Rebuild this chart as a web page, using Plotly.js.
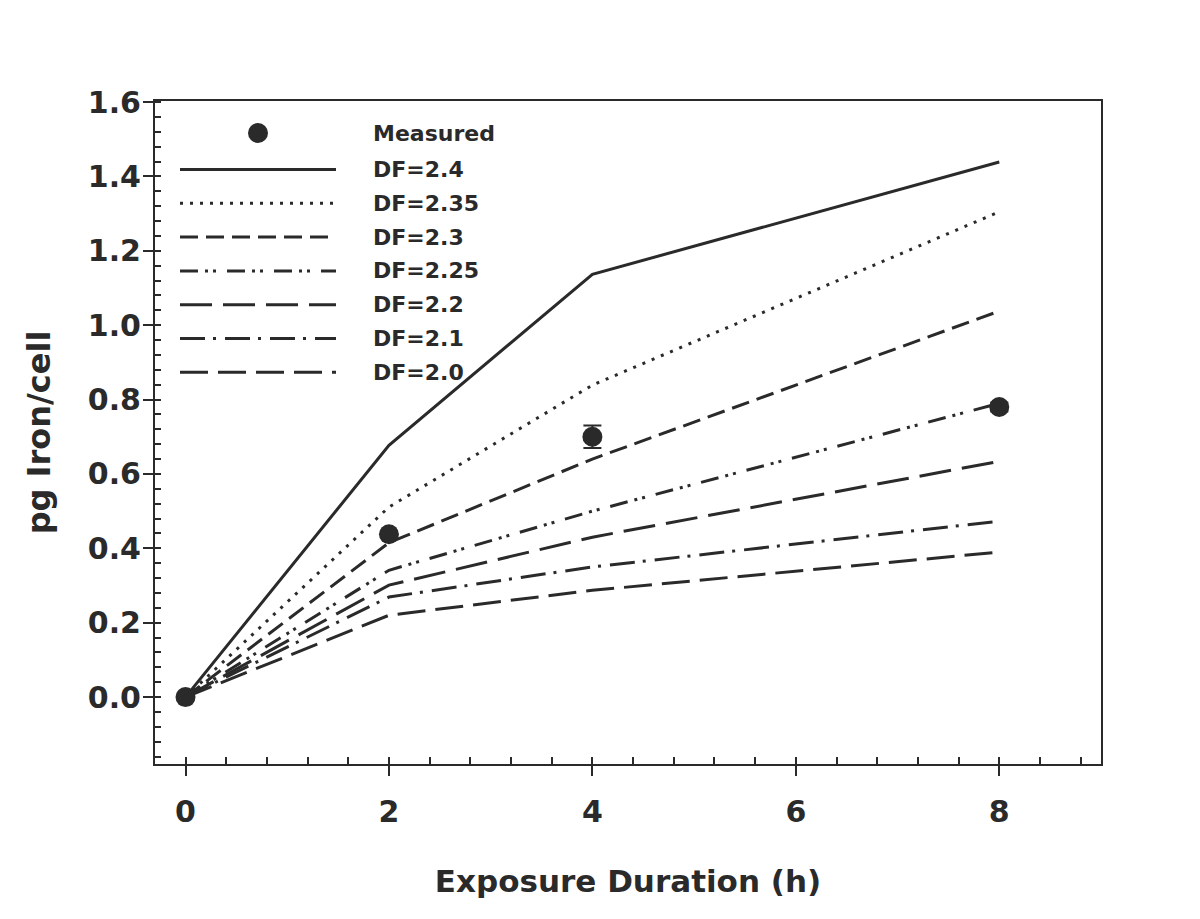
<!DOCTYPE html>
<html>
<head>
<meta charset="utf-8">
<script src="https://cdn.plot.ly/plotly-3.0.1.min.js"></script>
<style>html,body{margin:0;padding:0;background:#fff;}#chart{width:1200px;height:919px;}</style>
</head>
<body>
<div id="chart"></div>
<script>
// ---- data ----
const hours = [0, 2, 4, 8];
const measured = [0, 0.438, 0.70, 0.78];
const measuredErr = [0, 0.008, 0.03, 0.012];
const seriesNames = ["DF=2.4", "DF=2.35", "DF=2.3", "DF=2.25", "DF=2.2", "DF=2.1", "DF=2.0"];
const df24  = [0, 0.677, 1.137, 1.439];
const df235 = [0, 0.511, 0.839, 1.305];
const df23  = [0, 0.415, 0.640, 1.038];
const df225 = [0, 0.341, 0.500, 0.790];
const df22  = [0, 0.301, 0.430, 0.634];
const df21  = [0, 0.269, 0.350, 0.473];
const df20  = [0, 0.220, 0.287, 0.390];
const xTickLabels = ["0", "2", "4", "6", "8"];

// ---- styles ----
const ink = "#2a2a2a";
const font = "DejaVu Sans, sans-serif";
const dashes = ["solid", "3px,7px", "18px,8px", "18px,7px,3px,5px,3px,11px", "32px,11px", "25px,8px,3px,9px", "28px,10px"];
const seriesValues = [df24, df235, df23, df225, df22, df21, df20];

const traces = seriesValues.map((v, i) => ({
  x: hours, y: v, type: "scatter", mode: "lines", name: seriesNames[i],
  line: {color: ink, width: 3, dash: dashes[i]}, showlegend: false
}));
traces.push({
  x: hours, y: measured, type: "scatter", mode: "markers", name: "Measured",
  marker: {color: ink, size: 20},
  error_y: {type: "data", array: measuredErr, visible: true, color: ink, thickness: 2, width: 9},
  showlegend: false
});

// ---- custom legend (paper coordinates from pixel layout) ----
const W = 1200, H = 919, L = 155, R = 99, T = 101, B = 155;
const pw = W - L - R, ph = H - T - B;
const px = x => (x - L) / pw;
const py = y => (H - B - y) / ph;
const shapes = [];
const annotations = [];
const rowY = [133].concat(seriesNames.map((_, i) => 169.5 + 33.8 * i));
shapes.push({type: "circle", xref: "paper", yref: "paper", xsizemode: "pixel", ysizemode: "pixel",
  xanchor: px(258), yanchor: py(rowY[0]), x0: -10, x1: 10, y0: -10, y1: 10,
  fillcolor: ink, line: {color: ink, width: 0}});
annotations.push({xref: "paper", yref: "paper", x: px(371), y: py(rowY[0]), text: "Measured",
  showarrow: false, xanchor: "left", yanchor: "middle", font: {family: font, size: 22, color: ink, weight: "bold"}});
seriesNames.forEach((n, i) => {
  shapes.push({type: "line", xref: "paper", yref: "paper", x0: px(180), x1: px(336), y0: py(rowY[i + 1]), y1: py(rowY[i + 1]),
    line: {color: ink, width: 3, dash: dashes[i]}});
  annotations.push({xref: "paper", yref: "paper", x: px(371), y: py(rowY[i + 1]), text: n,
    showarrow: false, xanchor: "left", yanchor: "middle", font: {family: font, size: 22, color: ink, weight: "bold"}});
});

const layout = {
  width: W, height: H,
  margin: {l: L, r: R, t: T, b: B, pad: 0},
  paper_bgcolor: "#fff", plot_bgcolor: "#fff",
  showlegend: false,
  font: {family: font, color: ink},
  xaxis: {
    range: [-0.3, 9.0], tickmode: "array", tickvals: [0, 2, 4, 6, 8], ticktext: xTickLabels,
    ticks: "outside", ticklen: 10, tickwidth: 2, tickcolor: ink,
    minor: {ticks: "inside", tickmode: "linear", tick0: 0, dtick: 0.4, ticklen: 7, tickwidth: 2, tickcolor: ink},
    showline: true, linewidth: 2, linecolor: ink, mirror: true, showgrid: false, zeroline: false,
    tickfont: {family: font, size: 30, color: ink, weight: "bold"}, ticklabelstandoff: 10,
    title: {text: "Exposure Duration (h)", font: {family: font, size: 31, color: ink, weight: "bold"}, standoff: 42}
  },
  yaxis: {
    range: [-0.18, 1.603], tickmode: "linear", tick0: 0, dtick: 0.2, tickformat: ".1f",
    ticks: "outside", ticklen: 10, tickwidth: 2, tickcolor: ink,
    minor: {ticks: "inside", tickmode: "linear", tick0: 0, dtick: 0.04, ticklen: 6, tickwidth: 2, tickcolor: ink},
    showline: true, linewidth: 2, linecolor: ink, mirror: true, showgrid: false, zeroline: false,
    tickfont: {family: font, size: 30, color: ink, weight: "bold"}, ticklabelstandoff: -4,
    title: {text: "pg Iron/cell", font: {family: font, size: 32, color: ink, weight: "bold"}, standoff: 28}
  },
  shapes: shapes,
  annotations: annotations
};

Plotly.newPlot("chart", traces, layout, {displayModeBar: false, staticPlot: true});
</script>
</body>
</html>
